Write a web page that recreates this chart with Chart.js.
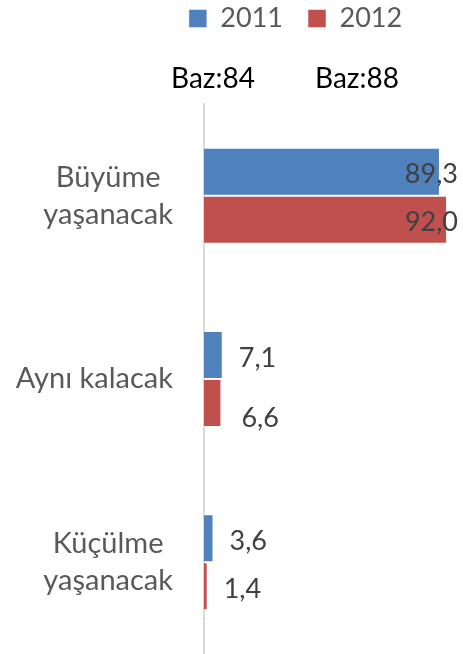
<!DOCTYPE html>
<html>
<head>
<meta charset="utf-8">
<script src="https://cdn.jsdelivr.net/npm/chart.js@4.4.0/dist/chart.umd.min.js"></script>
<style>
  html, body { margin: 0; padding: 0; background: #fff; }
  #wrap { width: 463px; height: 654px; }
</style>
</head>
<body>
<div id="wrap"><canvas id="grafik"></canvas></div>
<script>
// data dari grafik
const kategori = [['Büyüme', 'yaşanacak'], ['Aynı kalacak'], ['Küçülme', 'yaşanacak']];
const tahun = ['2011', '2012'];
const nilai2011 = [89.3, 7.1, 3.6];
const nilai2012 = [92.0, 6.6, 1.4];
const bazLabel = ['Baz:84', 'Baz:88'];

const FONT = 'Lato, "Open Sans", sans-serif';

// tinggi legenda dibuat tetap supaya area grafik mulai di y=104
const tinggiLegenda = {
    id: 'tinggiLegenda',
    beforeLayout(chart) {
        const lg = chart.legend;
        if (lg && !lg._dipatch) {
            const asli = lg.fit;
            lg.fit = function () { asli.call(this); this.height = 124; };
            lg._dipatch = true;
        }
    }
};

// label kategori, ditulis sendiri supaya baris tengah seperti Excel
const labelKategori = {
    id: 'labelKategori',
    afterDraw(chart) {
        const ctx = chart.ctx;
        const sy = chart.scales.y;
        ctx.save();
        ctx.font = '29px ' + FONT;
        ctx.fillStyle = '#595959';
        ctx.textAlign = 'center';
        ctx.textBaseline = 'middle';
        const kanan = chart.chartArea.left - 31;
        kategori.forEach((baris, i) => {
            const yc = sy.getPixelForTick(i);
            const lebar = Math.max(...baris.map(b => ctx.measureText(b).width));
            const xc = kanan - lebar / 2;
            const tinggi = 37;
            baris.forEach((b, j) => {
                ctx.fillText(b, xc, yc + (j - (baris.length - 1) / 2) * tinggi);
            });
        });
        // teks Baz di atas
        ctx.font = '28px ' + FONT;
        ctx.fillStyle = '#000';
        ctx.textBaseline = 'alphabetic';
        ctx.fillText(bazLabel[0], chart.chartArea.left + 9, 88);
        ctx.fillText(bazLabel[1], chart.chartArea.left + 153, 88);
        ctx.restore();
    }
};

// label nilai di ujung bar
const labelNilai = {
    id: 'labelNilai',
    afterDatasetsDraw(chart) {
        const ctx = chart.ctx;
        ctx.save();
        ctx.font = '27px ' + FONT;
        ctx.fillStyle = '#404040';
        ctx.textBaseline = 'middle';
        chart.data.datasets.forEach((ds, di) => {
            const meta = chart.getDatasetMeta(di);
            meta.data.forEach((bar, i) => {
                const v = ds.data[i];
                const teks = v.toFixed(1).replace('.', ',');
                let dx = 0, dy = 3;
                if (di === 1 && i === 1) { dx = 4; dy = 15; } // label 6,6 agak turun
                if (v > 50) {
                    ctx.textAlign = 'right';
                    ctx.fillText(teks, Math.min(bar.x + 18, chart.chartArea.right + 3), bar.y + dy);
                } else {
                    ctx.textAlign = 'left';
                    ctx.fillText(teks, bar.x + 16 + dx, bar.y + dy);
                }
            });
        });
        ctx.restore();
    }
};

new Chart(document.getElementById('grafik'), {
    type: 'bar',
    data: {
        labels: kategori.map(k => k.join(' ')),
        datasets: [{
            label: tahun[0],
            data: nilai2011,
            backgroundColor: '#4F81BD',
            borderColor: 'rgba(255,255,255,0.5)',
            borderWidth: 1
        }, {
            label: tahun[1],
            data: nilai2012,
            backgroundColor: '#C0504D',
            borderColor: 'rgba(255,255,255,0.5)',
            borderWidth: 1
        }]
    },
    options: {
        indexAxis: 'y',
        responsive: true,
        maintainAspectRatio: false,
        animation: false,
        datasets: {
            bar: { categoryPercentage: 0.524, barPercentage: 1 }
        },
        layout: { padding: { left: 136, right: 8, top: -20, bottom: 0 } },
        scales: {
            x: { display: false, min: 0, max: 95 },
            y: {
                ticks: { display: false },
                grid: { display: false },
                border: { display: true, color: '#D9D9D9', width: 2 },
                afterFit(scale) { scale.width = 68; }
            }
        },
        plugins: {
            legend: {
                display: true,
                position: 'top',
                labels: {
                    boxWidth: 18,
                    boxHeight: 18,
                    padding: 25,
                    color: '#595959',
                    font: { family: FONT, size: 27 }
                }
            },
            tooltip: { enabled: false }
        }
    },
    plugins: [tinggiLegenda, labelKategori, labelNilai]
});
</script>
</body>
</html>
